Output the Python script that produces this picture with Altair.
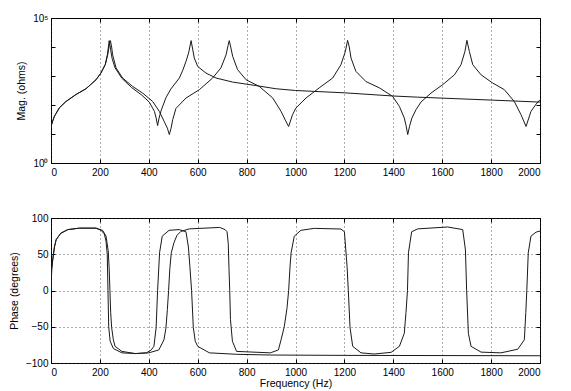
import altair as alt
import numpy as np
import pandas as pd

# ---- data ----
x_ticks = [0, 200, 400, 600, 800, 1000, 1200, 1400, 1600, 1800, 2000]
mag_ticks = [1, 10, 100, 1000, 10000, 100000]
phase_ticks = [-100, -50, 0, 50, 100]

# curve A (periodic tube impedance) magnitude, log10(ohms)
magA_freq = [0, 7, 14, 34, 61, 102, 143, 184, 204, 222, 232, 239, 243, 248, 252, 266, 293, 334, 375, 416, 443,
             463, 476, 484, 491, 498, 511, 552, 607, 661, 695, 716, 724, 729, 735, 743, 763, 798, 852, 907, 941,
             960, 972, 988, 1002, 1043, 1097, 1152, 1186, 1204, 1213, 1220, 1227, 1247, 1288, 1343, 1397, 1425,
             1445, 1452, 1459, 1466, 1476, 1493, 1513, 1554, 1602, 1650, 1677, 1693, 1701, 1711, 1725, 1759,
             1806, 1854, 1895, 1922, 1943, 1963, 1984, 2000]
magA_log = [1.26, 1.45, 1.61, 1.90, 2.12, 2.36, 2.56, 2.87, 3.10, 3.39, 3.73, 4.10, 4.22, 4.00, 3.73, 3.28, 2.93,
            2.64, 2.41, 2.12, 1.78, 1.43, 1.20, 0.98, 1.20, 1.50, 1.88, 2.24, 2.53, 2.93, 3.28, 3.73, 4.05, 4.22,
            4.00, 3.68, 3.22, 2.87, 2.64, 2.24, 1.78, 1.45, 1.26, 1.67, 1.90, 2.24, 2.59, 2.93, 3.39, 3.85, 4.23,
            4.00, 3.62, 3.16, 2.81, 2.59, 2.30, 1.95, 1.55, 1.30, 0.98, 1.25, 1.55, 1.84, 2.10, 2.41, 2.70, 3.04,
            3.39, 3.85, 4.23, 3.85, 3.39, 3.04, 2.76, 2.53, 2.12, 1.67, 1.26, 1.78, 2.03, 2.18]

# curve B magnitude, log10(ohms)
magB_freq = [0, 7, 14, 34, 61, 102, 143, 184, 204, 222, 231, 238, 244, 250, 262, 290, 330, 370, 402, 423, 430,
             436, 442, 450, 470, 490, 525, 539, 552, 563, 573, 580, 586, 600, 634, 675, 743, 838, 920, 1000,
             1200, 1400, 1500, 1800, 2000]
magB_log = [1.26, 1.45, 1.61, 1.90, 2.12, 2.36, 2.56, 2.87, 3.10, 3.40, 3.75, 4.22, 3.90, 3.60, 3.28, 2.92, 2.60,
            2.35, 2.10, 1.78, 1.55, 1.29, 1.55, 1.80, 2.25, 2.55, 2.93, 3.20, 3.50, 3.80, 4.22, 3.90, 3.62, 3.33,
            3.10, 2.93, 2.79, 2.67, 2.56, 2.50, 2.42, 2.31, 2.27, 2.17, 2.10]

# curve A phase, degrees
phA_freq = [0, 3, 7, 14, 21, 40, 69, 116, 184, 211, 225, 234, 238, 241, 244, 248, 255, 262, 290, 345, 400, 441,
            462, 470, 476, 481, 486, 492, 503, 515, 531, 566, 690, 712, 720, 725, 728, 731, 734, 742, 759, 897,
            930, 941, 954, 965, 972, 978, 982, 995, 1022, 1077, 1186, 1200, 1211, 1216, 1223, 1234, 1268, 1322,
            1391, 1425, 1445, 1452, 1458, 1462, 1475, 1500, 1622, 1684, 1695, 1700, 1707, 1718, 1759, 1840,
            1909, 1936, 1942, 1946, 1952, 1963, 1984, 2000]
phA_deg = [0, 30, 42, 60, 70, 79, 84, 86, 86, 83, 75, 55, 30, 0, -30, -51, -68, -77, -84, -87, -86, -82, -68, -52,
           -26, 0, 30, 52, 66, 76, 81.5, 85, 87, 84, 81, 65, 30, 0, -40, -70, -84, -86, -82, -68, -50, -25, 0, 35,
           52, 75, 83, 85.7, 84.8, 81, 33, 0, -51, -77, -86, -87.6, -85.3, -77, -59, -30, 0, 52, 81, 85, 87.6, 84,
           56, 0, -59, -77, -85, -86, -81, -68, -30, 0, 52, 75, 80.5, 82]

# curve B phase, degrees
phB_freq = [0, 3, 7, 14, 21, 40, 69, 116, 184, 205, 218, 225, 230, 233, 236, 242, 255, 290, 345, 390, 410, 421,
            430, 436, 444, 455, 483, 524, 552, 562, 568, 575, 582, 590, 600, 648, 759, 897, 1200, 2000]
phB_deg = [0, 30, 42, 60, 70, 79, 84, 86, 86, 83, 78, 68, 50, 0, -50, -70, -80, -86, -87, -86, -82, -77, -51, 0,
           52, 75, 83, 84, 81, 60, 33, 0, -51, -70, -77, -86, -88, -89, -89.5, -90]

magA = pd.DataFrame({"f": magA_freq, "v": np.power(10.0, magA_log)})
magB = pd.DataFrame({"f": magB_freq, "v": np.power(10.0, magB_log)})
phA = pd.DataFrame({"f": phA_freq, "v": phA_deg})
phB = pd.DataFrame({"f": phB_freq, "v": phB_deg})

FONT = "Liberation Sans"
LINE = "#1a1a1a"
INWARD = {"expr": "-4"}
W, H = 489, 145

xscale = alt.Scale(domain=[0, 2000], nice=False, zero=False)
magscale = alt.Scale(type="log", domain=[1, 100000], nice=False)
phscale = alt.Scale(domain=[-100, 100], nice=False)


def x_main(title, grid=True):
    return alt.X("f:Q", scale=xscale,
                 axis=alt.Axis(values=x_ticks, format="d", title=title, grid=grid, domain=False,
                               tickSize=INWARD, labelPadding=8, titlePadding=1,
                               gridDash=[1, 3], gridColor="#333", gridWidth=0.8))


def x_top():
    return alt.X("f:Q", scale=xscale,
                 axis=alt.Axis(values=x_ticks, orient="top", labels=False, title=None, grid=False,
                               domain=False, tickSize=INWARD))


# ---- top: magnitude ----
mag_left = alt.Axis(values=mag_ticks, title="Mag. (ohms)", grid=False, domain=False, tickSize=INWARD,
                    labelPadding=7, titlePadding=6,
                    labelExpr="datum.value == 1 ? '10\u2070' : (datum.value == 100000 ? '10\u2075' : '')")
mag_right = alt.Axis(values=mag_ticks, orient="right", labels=False, title=None, grid=False,
                     domain=False, tickSize=INWARD)

top_a = alt.Chart(magA).mark_line(color=LINE, strokeWidth=1, clip=True).encode(
    x=x_main(None), y=alt.Y("v:Q", scale=magscale, axis=mag_left))
top_b = alt.Chart(magB).mark_line(color=LINE, strokeWidth=1, clip=True).encode(
    x=x_top(), y=alt.Y("v:Q", scale=magscale, axis=mag_right))
top = alt.layer(top_a, top_b).resolve_axis(x="independent", y="independent").properties(width=W, height=H)

# ---- bottom: phase ----
ph_left = alt.Axis(values=phase_ticks, title="Phase (degrees)", grid=True, domain=False, tickSize=INWARD,
                   labelPadding=7, titlePadding=6, gridDash=[1, 3], gridColor="#333", gridWidth=0.8)
ph_right = alt.Axis(values=phase_ticks, orient="right", labels=False, title=None, grid=False,
                    domain=False, tickSize=INWARD)

bot_a = alt.Chart(phA).mark_line(color=LINE, strokeWidth=1, clip=True).encode(
    x=x_main("Frequency (Hz)"), y=alt.Y("v:Q", scale=phscale, axis=ph_left))
bot_b = alt.Chart(phB).mark_line(color=LINE, strokeWidth=1, clip=True).encode(
    x=x_top(), y=alt.Y("v:Q", scale=phscale, axis=ph_right))
bottom = alt.layer(bot_a, bot_b).resolve_axis(x="independent", y="independent").properties(width=W, height=H)

chart = alt.vconcat(top, bottom, spacing=34).properties(
    padding={"left": 0, "top": 4, "right": 5, "bottom": 0}
).configure(
    font=FONT, background="white"
).configure_view(
    stroke="black", strokeWidth=1
).configure_axis(
    labelFont=FONT, labelFontSize=10, labelColor="black", titleFont=FONT, titleFontSize=10.5,
    titleColor="black", titleFontWeight="normal", tickColor="black", tickWidth=1
)

chart.save("out.html", embed_options={"renderer": "svg", "actions": False})
